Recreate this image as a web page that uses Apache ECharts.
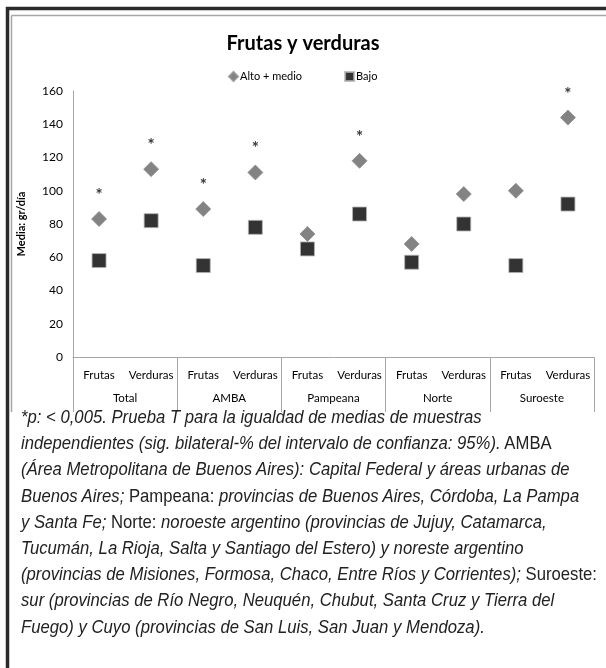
<!DOCTYPE html>
<html>
<head>
<meta charset="utf-8">
<script src="https://cdn.jsdelivr.net/npm/echarts@6/dist/echarts.min.js"></script>
<style>
html,body{margin:0;padding:0;background:#fff;}
#wrap{position:relative;width:606px;height:668px;overflow:hidden;}
#chart{position:absolute;left:0;top:0;width:606px;height:668px;}
#note{position:absolute;left:21px;top:404px;font-family:"Liberation Sans","Arimo",sans-serif;font-size:19px;line-height:26.2px;color:#222;white-space:nowrap;transform-origin:0 0;}
#note i{font-style:italic;}
#note span.l{display:inline-block;}
</style>
</head>
<body>
<div id="wrap">
<div id="chart"></div>
<div id="note">
<span class="l"><i>*p: &lt; 0,005. Prueba T para la igualdad de medias de muestras</i></span><br>
<span class="l"><i>independientes (sig. bilateral-% del intervalo de confianza: 95%).</i> AMBA</span><br>
<span class="l"><i>(Área Metropolitana de Buenos Aires): Capital Federal y áreas urbanas de</i></span><br>
<span class="l"><i>Buenos Aires;</i> Pampeana: <i>provincias de Buenos Aires, Córdoba, La Pampa</i></span><br>
<span class="l"><i>y Santa Fe;</i> Norte: <i>noroeste argentino (provincias de Jujuy, Catamarca,</i></span><br>
<span class="l"><i>Tucumán, La Rioja, Salta y Santiago del Estero) y noreste argentino</i></span><br>
<span class="l" id="longest"><i>(provincias de Misiones, Formosa, Chaco, Entre Ríos y Corrientes);</i> Suroeste:</span><br>
<span class="l"><i>sur (provincias de Río Negro, Neuquén, Chubut, Santa Cruz y Tierra del</i></span><br>
<span class="l"><i>Fuego) y Cuyo (provincias de San Luis, San Juan y Mendoza).</i></span>
</div>
</div>
<script>
// ---- data ----
const subCategories = ['Frutas','Verduras','Frutas','Verduras','Frutas','Verduras','Frutas','Verduras','Frutas','Verduras'];
const regions = ['Total','AMBA','Pampeana','Norte','Suroeste'];
const altoMedio = [83, 113, 89, 111, 74, 118, 68, 98, 100, 144];
const bajo = [58, 82, 55, 78, 65, 86, 57, 80, 55, 92];
const significant = [true, true, true, true, false, true, false, false, false, true];
const yTicks = {min: 0, max: 160, interval: 20};

// condense the footnote horizontally so the longest line spans like the reference
(function(){
  const note = document.getElementById('note');
  const w = document.getElementById('longest').getBoundingClientRect().width;
  const k = 576 / w;
  note.style.transform = 'scaleX(' + k + ')';
})();

const font = 'Lato, "Open Sans", sans-serif';
const chart = echarts.init(document.getElementById('chart'), null, {renderer: 'canvas'});
chart.setOption({
  animation: false,
  backgroundColor: 'transparent',
  title: {
    text: 'Frutas y verduras',
    left: 'center',
    top: 29,
    textStyle: {fontFamily: font, fontSize: 20, fontWeight: 'bold', color: '#000'}
  },
  legend: {
    top: 66,
    left: 223,
    itemWidth: 9,
    itemHeight: 9,
    itemGap: 42,
    textStyle: {fontFamily: font, fontSize: 11, color: '#000', padding: [0, 0, 0, -3]},
    data: [{name: 'Alto + medio', icon: 'diamond'}, {name: 'Bajo', icon: 'rect'}]
  },
  grid: {left: 73, right: 12, top: 91, bottom: 311},
  xAxis: [
    {
      type: 'category',
      data: subCategories,
      position: 'bottom',
      axisLine: {lineStyle: {color: '#a6a6a6', width: 1}},
      axisTick: {show: false},
      axisLabel: {fontFamily: font, fontSize: 11.5, color: '#000', margin: 12, interval: 0}
    },
    {
      type: 'category',
      data: regions,
      position: 'bottom',
      axisLine: {show: false},
      axisTick: {show: true, length: 55, lineStyle: {color: '#a6a6a6', width: 1}},
      axisLabel: {fontFamily: font, fontSize: 11.5, color: '#000', margin: 35, interval: 0}
    }
  ],
  yAxis: {
    type: 'value',
    min: yTicks.min,
    max: yTicks.max,
    interval: yTicks.interval,
    axisLine: {show: true, lineStyle: {color: '#a6a6a6', width: 1}},
    axisTick: {show: false},
    splitLine: {show: false},
    axisLabel: {fontFamily: font, fontSize: 12, color: '#000', margin: 10},
    name: 'Media: gr/día',
    nameLocation: 'middle',
    nameRotate: 90,
    nameGap: 46,
    nameTextStyle: {fontFamily: font, fontSize: 11, fontWeight: 'bold', color: '#000'}
  },
  series: [
    {
      name: 'Alto + medio',
      type: 'scatter',
      xAxisIndex: 0,
      symbol: 'diamond',
      symbolSize: 15,
      data: altoMedio,
      itemStyle: {color: '#646464', borderColor: '#8f8f8f', borderWidth: 1},
      label: {
        show: true,
        position: 'top',
        distance: 7,
        fontFamily: font,
        fontSize: 17,
        fontWeight: 'bold',
        color: '#000',
        formatter: p => significant[p.dataIndex] ? '*' : ''
      }
    },
    {
      name: 'Bajo',
      type: 'scatter',
      xAxisIndex: 0,
      symbol: 'rect',
      symbolSize: 14,
      data: bajo,
      itemStyle: {color: '#000', borderColor: '#b3b3b3', borderWidth: 1}
    }
  ],
  graphic: [
    {type: 'line', shape: {x1: 6, y1: 8.5, x2: 606, y2: 8.5}, style: {stroke: '#2b2b2b', lineWidth: 3.5}},
    {type: 'line', shape: {x1: 7.5, y1: 7, x2: 7.5, y2: 668}, style: {stroke: '#2b2b2b', lineWidth: 3.5}},
    {type: 'line', shape: {x1: 11.5, y1: 15.5, x2: 606, y2: 15.5}, style: {stroke: '#a6a6a6', lineWidth: 1.5}},
    {type: 'line', shape: {x1: 11.5, y1: 15.5, x2: 11.5, y2: 412}, style: {stroke: '#a6a6a6', lineWidth: 1.5}}
  ]
});
</script>
</body>
</html>
